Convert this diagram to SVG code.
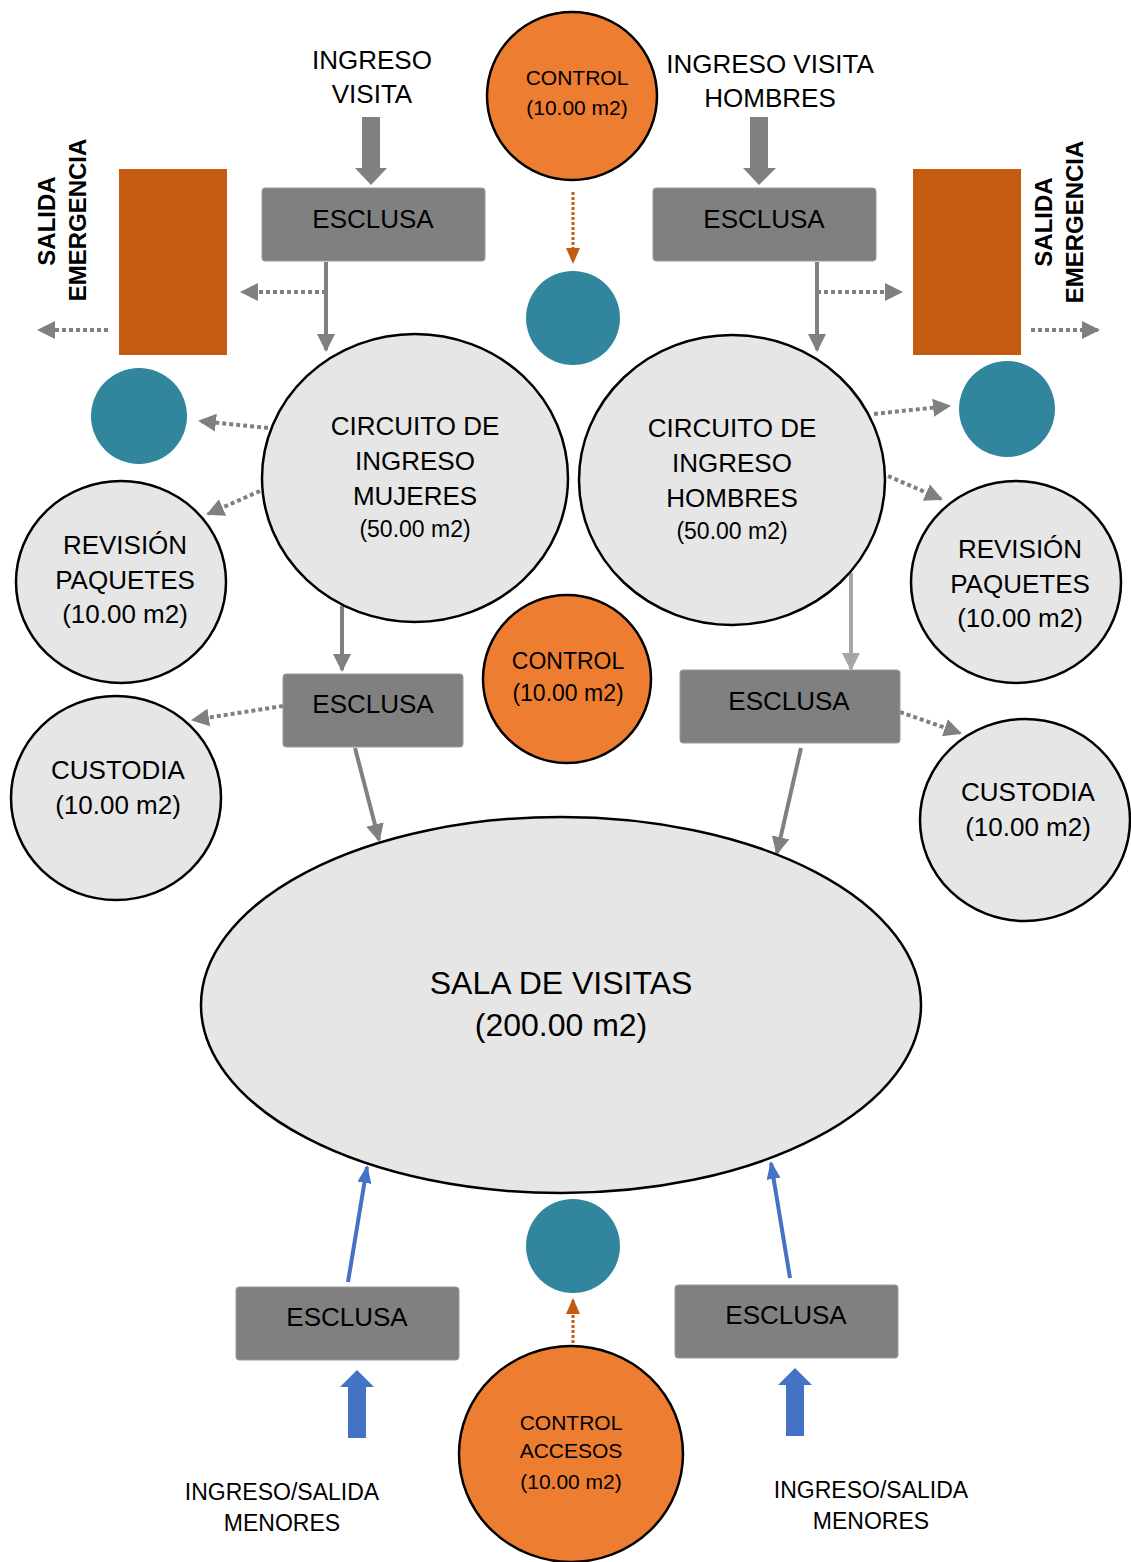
<svg xmlns="http://www.w3.org/2000/svg" width="1131" height="1562" viewBox="0 0 1131 1562">
<style>
text{font-family:"Liberation Sans",Arial,sans-serif;fill:#000;text-anchor:middle}
.t26{font-size:26px}.t23{font-size:23px}.t21{font-size:21px}
.bold{font-weight:bold;font-size:24px}
.big{font-size:32px}
.room{fill:#E6E6E6;stroke:#000;stroke-width:2.5}
.ctl{fill:#ED7D31;stroke:#000;stroke-width:2.5}
.teal{fill:#31859C}
.exit{fill:#C55A11}
.esc{fill:#808080;stroke:#9a9a9a;stroke-width:1}
.ln{stroke:#808080;stroke-width:4;fill:none}
.dot{stroke:#808080;stroke-width:4;stroke-dasharray:4 3;fill:none}
.odot{stroke:#C55A11;stroke-width:3;stroke-dasharray:3 2;fill:none}
.blue{stroke:#4472C4;stroke-width:4;fill:none}
</style>
<defs>
<marker id="ag" markerUnits="userSpaceOnUse" markerWidth="18" markerHeight="18" viewBox="0 0 18 18" refX="16" refY="9" orient="auto"><path d="M0,0 L18,9 L0,18 z" fill="#808080"/></marker>
<marker id="agl" markerUnits="userSpaceOnUse" markerWidth="18" markerHeight="18" viewBox="0 0 18 18" refX="16" refY="9" orient="auto"><path d="M0,0 L18,9 L0,18 z" fill="#A6A6A6"/></marker>
<marker id="ao" markerUnits="userSpaceOnUse" markerWidth="16" markerHeight="16" viewBox="0 0 16 16" refX="14" refY="8" orient="auto"><path d="M0,1 L16,8 L0,15 z" fill="#C55A11"/></marker>
<marker id="ab" markerUnits="userSpaceOnUse" markerWidth="18" markerHeight="14" viewBox="0 0 18 14" refX="16" refY="7" orient="auto"><path d="M0,0 L18,7 L0,14 z" fill="#4472C4"/></marker>
</defs>

<g id="connectors">
  <!-- thick entry arrows -->
  <path d="M362,117 H380 V168 H387 L371,185 L355,168 H362 Z" fill="#808080"/>
  <path d="M750,117 H768 V168 H776 L759,185 L743,168 H750 Z" fill="#808080"/>
  <path d="M348,1438 H366 V1387 H374 L357,1370 L340,1387 H348 Z" fill="#4472C4"/>
  <path d="M786,1436 H804 V1385 H812 L795,1368 L778,1385 H786 Z" fill="#4472C4"/>
  <!-- top esclusas to circuits -->
  <line class="ln" x1="326" y1="262" x2="326" y2="350" marker-end="url(#ag)"/>
  <line class="ln" x1="817" y1="262" x2="817" y2="350" marker-end="url(#ag)"/>
  <line class="dot" x1="326" y1="292" x2="242" y2="292" marker-end="url(#ag)"/>
  <line class="dot" x1="817" y1="292" x2="901" y2="292" marker-end="url(#ag)"/>
  <line class="dot" x1="108" y1="330" x2="39" y2="330" marker-end="url(#ag)"/>
  <line class="dot" x1="1031" y1="330" x2="1098" y2="330" marker-end="url(#ag)"/>
  <line class="odot" x1="573" y1="192" x2="573" y2="262" marker-end="url(#ao)"/>
  <!-- circuits -->
  <line class="dot" x1="268" y1="428" x2="200" y2="421" marker-end="url(#ag)"/>
  <line class="dot" x1="260" y1="491" x2="208" y2="514" marker-end="url(#ag)"/>
  <line class="dot" x1="874" y1="414" x2="949" y2="406" marker-end="url(#ag)"/>
  <line class="dot" x1="888" y1="476" x2="941" y2="499" marker-end="url(#ag)"/>
  <line class="ln" x1="342" y1="606" x2="342" y2="670" marker-end="url(#ag)"/>
  <line x1="851" y1="573" x2="851" y2="669" stroke="#A6A6A6" stroke-width="4" marker-end="url(#agl)"/>
  <!-- middle esclusas -->
  <line class="dot" x1="283" y1="706" x2="193" y2="720" marker-end="url(#ag)"/>
  <line class="dot" x1="900" y1="712" x2="960" y2="733" marker-end="url(#ag)"/>
  <line class="ln" x1="355" y1="748" x2="379" y2="840" marker-end="url(#ag)"/>
  <line class="ln" x1="801" y1="748" x2="777" y2="853" marker-end="url(#ag)"/>
  <!-- bottom -->
  <line class="blue" x1="348" y1="1282" x2="367" y2="1167" marker-end="url(#ab)"/>
  <line class="blue" x1="790" y1="1278" x2="771" y2="1163" marker-end="url(#ab)"/>
  <line class="odot" x1="573" y1="1343" x2="573" y2="1300" marker-end="url(#ao)"/>
</g>

<g id="label-ingreso-visita">
  <text class="t26" x="372" y="69">INGRESO</text>
  <text class="t26" x="372" y="103">VISITA</text>
</g>
<g id="label-ingreso-hombres">
  <text class="t26" x="770" y="73">INGRESO VISITA</text>
  <text class="t26" x="770" y="107">HOMBRES</text>
</g>

<g id="control-top">
  <ellipse class="ctl" cx="572" cy="96" rx="85" ry="84"/>
  <text class="t21" x="577" y="85">CONTROL</text>
  <text class="t21" x="577" y="115">(10.00 m2)</text>
</g>
<g id="teal-top"><circle class="teal" cx="573" cy="318" r="47"/></g>

<g id="esclusa-top-left">
  <rect class="esc" x="262" y="188" width="223" height="73" rx="3"/>
  <text class="t26" x="373" y="228">ESCLUSA</text>
</g>
<g id="esclusa-top-right">
  <rect class="esc" x="653" y="188" width="223" height="73" rx="3"/>
  <text class="t26" x="764" y="228">ESCLUSA</text>
</g>

<g id="salida-left">
  <rect class="exit" x="119" y="169" width="108" height="186"/>
  <text class="bold" transform="translate(55,221) rotate(-90)">SALIDA</text>
  <text class="bold" transform="translate(86,220) rotate(-90)">EMERGENCIA</text>
</g>
<g id="salida-right">
  <rect class="exit" x="913" y="169" width="108" height="186"/>
  <text class="bold" transform="translate(1052,222) rotate(-90)">SALIDA</text>
  <text class="bold" transform="translate(1083,222) rotate(-90)">EMERGENCIA</text>
</g>

<g id="teal-left"><circle class="teal" cx="139" cy="416" r="48"/></g>
<g id="teal-right"><circle class="teal" cx="1007" cy="409" r="48"/></g>

<g id="circuito-mujeres">
  <ellipse class="room" cx="415" cy="478" rx="153" ry="144"/>
  <text class="t26" x="415" y="435">CIRCUITO DE</text>
  <text class="t26" x="415" y="470">INGRESO</text>
  <text class="t26" x="415" y="505">MUJERES</text>
  <text class="t23" x="415" y="537">(50.00 m2)</text>
</g>
<g id="circuito-hombres">
  <ellipse class="room" cx="732" cy="480" rx="153" ry="145"/>
  <text class="t26" x="732" y="437">CIRCUITO DE</text>
  <text class="t26" x="732" y="472">INGRESO</text>
  <text class="t26" x="732" y="507">HOMBRES</text>
  <text class="t23" x="732" y="539">(50.00 m2)</text>
</g>

<g id="revision-left">
  <ellipse class="room" cx="121" cy="582" rx="105" ry="101"/>
  <text class="t26" x="125" y="554">REVISIÓN</text>
  <text class="t26" x="125" y="589">PAQUETES</text>
  <text class="t26" x="125" y="623">(10.00 m2)</text>
</g>
<g id="revision-right">
  <ellipse class="room" cx="1016" cy="582" rx="105" ry="101"/>
  <text class="t26" x="1020" y="558">REVISIÓN</text>
  <text class="t26" x="1020" y="593">PAQUETES</text>
  <text class="t26" x="1020" y="627">(10.00 m2)</text>
</g>

<g id="control-middle">
  <ellipse class="ctl" cx="567" cy="679" rx="84" ry="84"/>
  <text class="t23" x="568" y="669">CONTROL</text>
  <text class="t23" x="568" y="701">(10.00 m2)</text>
</g>

<g id="esclusa-mid-left">
  <rect class="esc" x="283" y="674" width="180" height="73" rx="3"/>
  <text class="t26" x="373" y="713">ESCLUSA</text>
</g>
<g id="esclusa-mid-right">
  <rect class="esc" x="680" y="670" width="220" height="73" rx="3"/>
  <text class="t26" x="789" y="710">ESCLUSA</text>
</g>

<g id="custodia-left">
  <ellipse class="room" cx="116" cy="798" rx="105" ry="102"/>
  <text class="t26" x="118" y="779">CUSTODIA</text>
  <text class="t26" x="118" y="814">(10.00 m2)</text>
</g>
<g id="custodia-right">
  <ellipse class="room" cx="1025" cy="820" rx="105" ry="101"/>
  <text class="t26" x="1028" y="801">CUSTODIA</text>
  <text class="t26" x="1028" y="836">(10.00 m2)</text>
</g>

<g id="sala-visitas">
  <ellipse class="room" cx="561" cy="1005" rx="360" ry="188"/>
  <text class="big" x="561" y="994">SALA DE VISITAS</text>
  <text class="big" x="561" y="1036">(200.00 m2)</text>
</g>

<g id="teal-bottom"><circle class="teal" cx="573" cy="1246" r="47"/></g>

<g id="esclusa-bottom-left">
  <rect class="esc" x="236" y="1287" width="223" height="73" rx="3"/>
  <text class="t26" x="347" y="1326">ESCLUSA</text>
</g>
<g id="esclusa-bottom-right">
  <rect class="esc" x="675" y="1285" width="223" height="73" rx="3"/>
  <text class="t26" x="786" y="1324">ESCLUSA</text>
</g>

<g id="control-accesos">
  <ellipse class="ctl" cx="571" cy="1454" rx="112" ry="108"/>
  <text class="t21" x="571" y="1430">CONTROL</text>
  <text class="t21" x="571" y="1458">ACCESOS</text>
  <text class="t21" x="571" y="1489">(10.00 m2)</text>
</g>

<g id="label-menores-left">
  <text class="t23" x="282" y="1500">INGRESO/SALIDA</text>
  <text class="t23" x="282" y="1531">MENORES</text>
</g>
<g id="label-menores-right">
  <text class="t23" x="871" y="1498">INGRESO/SALIDA</text>
  <text class="t23" x="871" y="1529">MENORES</text>
</g>
</svg>
